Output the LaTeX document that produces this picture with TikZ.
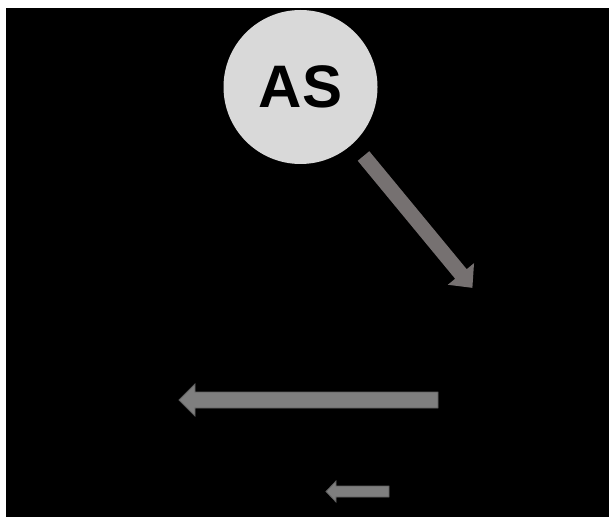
\documentclass[tikz,border=0pt]{standalone}
\usepackage{fontspec}
\setmainfont{Liberation Sans}
\definecolor{arrowA}{HTML}{767171}
\definecolor{arrowB}{HTML}{7F7F7F}
\definecolor{arrowBline}{HTML}{5F5F5F}
\definecolor{circfill}{HTML}{D9D9D9}
\newcommand\myblockarrow[8]{%
  \begin{scope}[shift={(#1,#2)},rotate=#3]
    \path[#8] (0,-#5/2) -- ({#4-#7},-#5/2) -- ({#4-#7},-#6/2) -- (#4,0)
      -- ({#4-#7},#6/2) -- ({#4-#7},#5/2) -- (0,#5/2) -- cycle;
  \end{scope}}
\begin{document}
\begin{tikzpicture}[x=1pt,y=1pt,
  shaftA/.style={fill=arrowA},
  shaftB/.style={fill=arrowB,draw=arrowBline,line width=0.8pt,line join=miter},
  asnode/.style={circle,fill=circfill,minimum size=154pt,inner sep=0pt,
    font=\fontsize{60}{62}\selectfont\bfseries,text=black}]
\useasboundingbox (0,0) rectangle (609,517);
\fill[white] (0,0) rectangle (609,517);
\fill[black] (6,0) rectangle (609,509);
\node[asnode] (as) at (300.5,430) {AS};
\myblockarrow{363.5}{361}{-50.45}{171}{15}{34}{18}{shaftA}
\myblockarrow{438}{117}{180}{259}{16}{32}{16}{shaftB}
\myblockarrow{389}{25.5}{180}{63}{11}{21}{10}{shaftB}
\end{tikzpicture}
\end{document}
